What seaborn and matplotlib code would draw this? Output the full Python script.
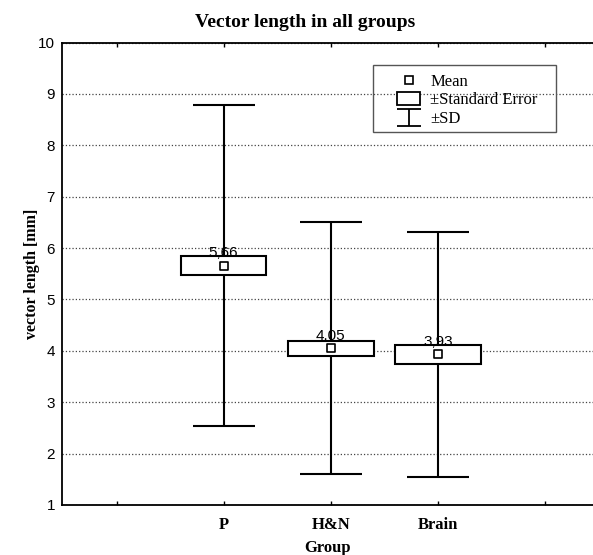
import matplotlib
matplotlib.use("Agg")
import matplotlib.pyplot as plt
import seaborn as sns
import pandas as pd
from matplotlib.patches import Rectangle

sns.set_theme(style="white")
plt.rcParams['font.family'] = ['Liberation Sans', 'DejaVu Sans']
plt.rcParams['text.color'] = 'black'
plt.rcParams['axes.labelcolor'] = 'black'
plt.rcParams['xtick.color'] = 'black'
plt.rcParams['ytick.color'] = 'black'

# data
groups = ['P', 'H&N', 'Brain']
means = [5.66, 4.05, 3.93]
se = [0.19, 0.145, 0.185]
sd = [3.12, 2.45, 2.38]
tick_labels = ['', 'P', 'H&N', 'Brain', '']

df = pd.DataFrame({'group': groups, 'mean': means, 'se': se, 'sd': sd})
df['pos'] = [tick_labels.index(g) for g in groups]

serif = 'Liberation Serif'
W, H = 593, 555

fig = plt.figure(figsize=(W / 100, H / 100), dpi=100)
ax = fig.add_axes([62 / W, 1 - 505 / H, 1 - 62 / W, (505 - 42.5) / H])

# ±SD whiskers
ax.errorbar(df['pos'], df['mean'], yerr=df['sd'], fmt='none',
            ecolor='black', elinewidth=1.5, capsize=22, capthick=1.5, zorder=2)

# ±SE boxes
ax.bar(df['pos'], 2 * df['se'], bottom=df['mean'] - df['se'], width=0.8,
       color='white', edgecolor='black', linewidth=1.5, zorder=3)

# means
sns.scatterplot(data=df, x='pos', y='mean', marker='s', s=30,
                color='white', edgecolor='black', linewidth=1.2,
                zorder=4, ax=ax, legend=False)

for _, r in df.iterrows():
    ax.annotate(f"{r['mean']:.2f}".replace('.', ','), (r['pos'], r['mean']),
                xytext=(0, 4), textcoords='offset points',
                ha='center', va='bottom', fontsize=11, color='black', zorder=5)

ax.set_xlim(-0.51, 4.45)
ax.set_ylim(1, 10)
ax.set_yticks(range(1, 11))
ax.set_xticks(range(len(tick_labels)))
ax.set_xticklabels(tick_labels, fontfamily=serif, fontweight='bold', fontsize=12)
ax.tick_params(axis='y', labelsize=11, length=0, pad=5)
ax.tick_params(axis='x', direction='in', length=3, width=1, top=True,
               bottom=True, pad=8.5, color='black')

ax.yaxis.grid(True, linestyle=':', linewidth=0.9, color='#444444')
ax.xaxis.grid(False)
ax.set_axisbelow(True)

for s in ['left', 'bottom', 'top']:
    ax.spines[s].set_color('black')
    ax.spines[s].set_linewidth(1.3)
ax.spines['right'].set_visible(False)

ax.set_xlabel('Group', fontfamily=serif, fontweight='bold', fontsize=12, labelpad=5)
ax.set_ylabel('vector length [mm]', fontfamily=serif, fontweight='bold', fontsize=11.5)
ax.yaxis.set_label_coords((40 - 62) / (W - 62), 0.5)
fig.text(0.515, 0.96, 'Vector length in all groups', ha='center', va='center',
         fontfamily=serif, fontweight='bold', fontsize=14)

# legend: frameless legend plus a plain frame drawn around it
h_mean = plt.Line2D([], [], marker='s', linestyle='none', markersize=6,
                    markerfacecolor='white', markeredgecolor='black',
                    markeredgewidth=1.2)
h_se = Rectangle((0, 0), 1, 1, facecolor='white', edgecolor='black', linewidth=1.3)
h_sd = ax.errorbar([0], [float('nan')], yerr=[1], fmt='none', ecolor='black',
                   elinewidth=1.3, capsize=8.6, capthick=1.3)
leg = ax.legend([h_mean, h_se, h_sd], ['Mean', '±Standard Error', '±SD'],
                loc='upper left', bbox_to_anchor=(397 / W, 1 - 73.5 / H),
                bbox_transform=fig.transFigure, borderaxespad=0, borderpad=0,
                frameon=False, prop={'family': serif, 'size': 12},
                handlelength=1.4, handleheight=0.78, handletextpad=0.6,
                labelspacing=0.17)
fig.patches.append(Rectangle((373 / W, 1 - 132 / H), (556 - 373) / W, (132 - 65) / H,
                             transform=fig.transFigure, fill=False,
                             edgecolor='#555555', linewidth=1.0, zorder=10))

fig.savefig('out.png', dpi=100)
